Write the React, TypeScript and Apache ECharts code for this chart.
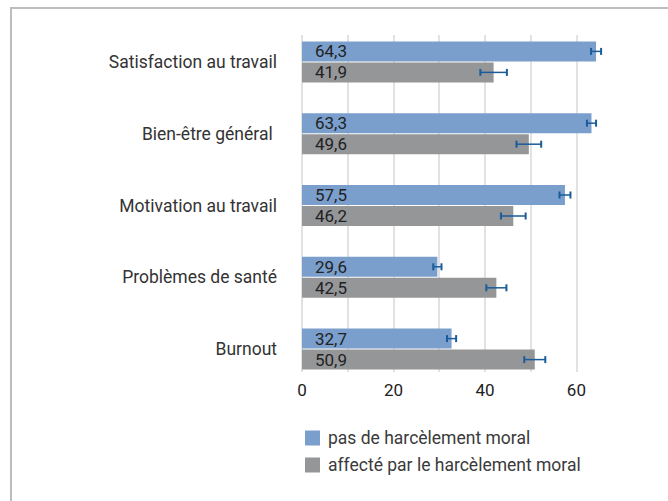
import React, { useEffect, useRef } from "react";
import * as echarts from "echarts";

const categories = [
  "Satisfaction au travail",
  "Bien-être général ",
  "Motivation au travail",
  "Problèmes de santé",
  "Burnout",
];
const seriesNames = ["pas de harcèlement moral", "affecté par le harcèlement moral"];
const notHarassed = [64.3, 63.3, 57.5, 29.6, 32.7];
const harassed = [41.9, 49.6, 46.2, 42.5, 50.9];
const errNotHarassed = [1.1, 1.0, 1.2, 0.9, 1.0];
const errHarassed = [2.9, 2.7, 2.7, 2.2, 2.3];
const xTicks = [0, 20, 40, 60];

const BLUE = "#7a9fcc";
const GRAY = "#959698";
const ERR = "#1a5c9a";
const FONT = "Roboto";

export default function App() {
  const ref = useRef<HTMLDivElement>(null);
  useEffect(() => {
    if (!ref.current) return;
    const chart = echarts.init(ref.current, undefined, { renderer: "svg" });
    const barW = 20;
    const offs = [-10.5, 10.5];
    const makeErr = (vals: number[], errs: number[], k: number) => ({
      type: "custom",
      xAxisIndex: 0,
      yAxisIndex: 0,
      z: 5,
      encode: { x: [0, 1], y: 2 },
      data: vals.map((v, i) => [v - errs[i], v + errs[i], i]),
      renderItem: (params: any, api: any) => {
        const lo = api.coord([api.value(0), api.value(2)]);
        const hi = api.coord([api.value(1), api.value(2)]);
        const y = lo[1] + offs[k];
        return {
          type: "group",
          children: [
            { type: "line", shape: { x1: lo[0], y1: y, x2: hi[0], y2: y }, style: { stroke: ERR, lineWidth: 1.5 } },
            { type: "line", shape: { x1: lo[0], y1: y - 3.5, x2: lo[0], y2: y + 3.5 }, style: { stroke: ERR, lineWidth: 2 } },
            { type: "line", shape: { x1: hi[0], y1: y - 3.5, x2: hi[0], y2: y + 3.5 }, style: { stroke: ERR, lineWidth: 2 } },
          ],
        };
      },
    });
    const barLabel = {
      show: true,
      position: "insideLeft",
      distance: 13,
      color: "#222",
      fontSize: 17,
      fontFamily: FONT,
      formatter: (p: any) => String(p.value).replace(".", ","),
    };
    chart.setOption({
      animation: false,
      backgroundColor: "#fff",
      graphic: [
        {
          type: "rect",
          shape: { x: 11, y: 8, width: 800, height: 700 },
          style: { fill: "none", stroke: "#bdbdbd", lineWidth: 2 },
          silent: true,
          z: -10,
        },
      ],
      legend: {
        orient: "vertical",
        left: 300,
        top: 424,
        itemWidth: 15,
        itemHeight: 15,
        itemGap: 9,
        icon: "rect",
        data: seriesNames,
        textStyle: { fontSize: 17.5, lineHeight: 18, color: "#3a3a3a", fontFamily: FONT, padding: [0, 0, 0, 3] },
      },
      grid: [
        { left: 302, width: 274.4, top: 26, height: 359 },
        { left: 302, width: 274.4, top: 35, height: 337 },
      ],
      xAxis: [
        { type: "value", gridIndex: 0, min: 0, max: 60, show: false },
        {
          type: "value",
          gridIndex: 1,
          min: 0,
          max: 60,
          interval: 10,
          axisLine: { show: false },
          axisTick: { show: false },
          splitLine: { show: true, lineStyle: { color: "#e2e2e2", width: 2 } },
          axisLabel: {
            margin: 9,
            fontSize: 17,
            color: "#222",
            fontFamily: FONT,
            formatter: (v: number) => (xTicks.includes(v) ? String(v) : ""),
          },
        },
      ],
      yAxis: [
        {
          type: "category",
          gridIndex: 0,
          data: categories,
          inverse: true,
          axisLine: { show: false },
          axisTick: { show: false },
          splitLine: { show: false },
          axisLabel: { margin: 25, fontSize: 17.5, color: "#333", fontFamily: FONT },
        },
        { type: "value", gridIndex: 1, min: 0, max: 1, show: false },
      ],
      series: [
        {
          name: seriesNames[0],
          type: "bar",
          xAxisIndex: 0,
          yAxisIndex: 0,
          data: notHarassed,
          barWidth: barW,
          barGap: "5%",
          clip: false,
          itemStyle: { color: BLUE },
          label: barLabel,
          z: 3,
        },
        {
          name: seriesNames[1],
          type: "bar",
          xAxisIndex: 0,
          yAxisIndex: 0,
          data: harassed,
          barWidth: barW,
          barGap: "5%",
          clip: false,
          itemStyle: { color: GRAY },
          label: barLabel,
          z: 3,
        },
        makeErr(notHarassed, errNotHarassed, 0),
        makeErr(harassed, errHarassed, 1),
      ],
    });
    return () => chart.dispose();
  }, []);
  return <div ref={ref} style={{ position: "absolute", left: 0, top: 0, width: 668, height: 501 }} />;
}
